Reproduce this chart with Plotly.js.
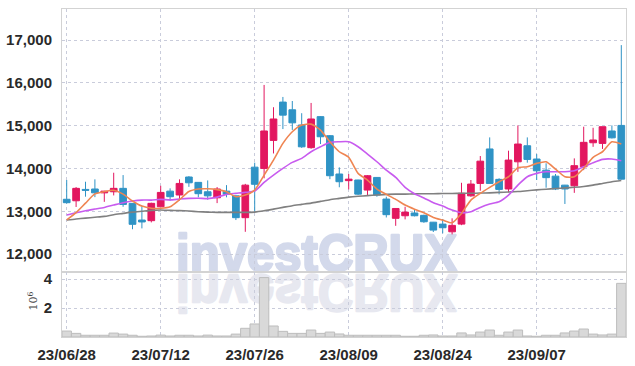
<!DOCTYPE html>
<html>
<head>
<meta charset="utf-8">
<script src="https://cdn.plot.ly/plotly-3.0.1.min.js"></script>
<style>
  html, body { margin: 0; padding: 0; background: #ffffff; }
  #wrap { position: relative; width: 635px; height: 366px; overflow: hidden; }
  #wm { position: absolute; left: 0; top: 0; z-index: 0; }
  #chart { position: absolute; left: 0; top: 0; width: 635px; height: 366px; z-index: 1; }
</style>
</head>
<body>
<div id="wrap">
  <svg id="wm" width="635" height="366">
    <text x="176" y="271" font-family="Liberation Sans, Arial, sans-serif" font-weight="bold" font-size="52" textLength="281" lengthAdjust="spacingAndGlyphs" fill="#d3d9eb" stroke="#d3d9eb" stroke-width="2.4" stroke-linejoin="round">investCRUX</text>
    <text x="176" y="271" transform="translate(0,546) scale(1,-1)" font-family="Liberation Sans, Arial, sans-serif" font-weight="bold" font-size="52" textLength="281" lengthAdjust="spacingAndGlyphs" fill="#e7e8f0" stroke="#e7e8f0" stroke-width="2.4" stroke-linejoin="round">investCRUX</text>
  </svg>
  <div id="chart"></div>
</div>
<script>
const dates = ["23/06/28","23/06/29","23/06/30","23/07/03","23/07/04","23/07/05","23/07/06","23/07/07","23/07/10","23/07/11",
  "23/07/12","23/07/13","23/07/14","23/07/17","23/07/18","23/07/19","23/07/20","23/07/21","23/07/24","23/07/25",
  "23/07/26","23/07/27","23/07/28","23/07/31","23/08/01","23/08/02","23/08/03","23/08/04","23/08/07","23/08/08",
  "23/08/09","23/08/10","23/08/11","23/08/14","23/08/16","23/08/17","23/08/18","23/08/21","23/08/22","23/08/23",
  "23/08/24","23/08/25","23/08/28","23/08/29","23/08/30","23/08/31","23/09/01","23/09/04","23/09/05","23/09/06",
  "23/09/07","23/09/08","23/09/11","23/09/12","23/09/13","23/09/14","23/09/15","23/09/18","23/09/19","23/09/20"];

const openP = [13280,13245,13510,13520,13430,13455,13535,13185,12795,12780,
  13105,13470,13380,13800,13675,13455,13315,13470,13360,12850,
  14030,14000,14655,15550,15370,15015,14485,15210,14765,13870,
  13715,13730,13495,13790,13285,12835,12895,12960,12905,12745,
  12700,12520,12700,13360,13650,14455,13745,13520,14155,14530,
  14220,13960,13820,13610,13595,14040,14600,14585,14875,15005];
const highP = [13730,13565,13690,13745,13475,13900,13845,13190,13120,13200,
  13595,13535,13745,13820,13680,13720,13565,13610,13365,13640,
  14135,15950,15430,15670,15575,15290,15530,15220,14780,14025,
  13870,13735,13845,13795,13340,13065,13105,13050,12920,12750,
  12820,12835,13665,13730,14290,14725,13770,14415,15005,14725,
  14335,14120,13870,13615,14235,14975,14950,14975,15005,16880];
const lowP = [13180,13100,13340,13330,13220,13370,13105,12580,12600,12740,
  13105,13245,13250,13570,13325,13270,13190,13325,12795,12520,
  12990,13770,14350,14920,14900,14480,14460,14570,13750,13560,
  13510,13380,13380,13340,12855,12660,12810,12880,12730,12515,
  12485,12460,12675,13340,13480,13650,13395,13440,13920,14135,
  13730,13550,13495,13170,13430,13960,14505,14455,14700,13740];
const closeP = [13200,13535,13490,13430,13470,13535,13160,12695,12750,13185,
  13440,13340,13650,13665,13410,13360,13520,13400,12850,13610,
  13630,14875,15155,15245,15065,14505,15155,14740,13830,13690,
  13750,13400,13830,13380,12920,13065,12980,12895,12755,12560,
  12615,12670,13420,13635,14170,13650,13510,14195,14570,14210,
  13945,13785,13520,13520,14065,14610,14665,14975,14715,13750];

const ma5 = [12800,12970,13190,13405,13460,13490,13400,13240,13120,13070,
  13070,13105,13270,13460,13518,13525,13505,13455,13340,13378,
  13495,13845,14196,14585,14857,15013,15035,14897,14623,14390,
  14259,13885,13729,13518,13394,13278,13145,13048,12966,12857,
  12794,12731,12950,13261,13418,13558,13690,13806,14016,14039,
  14118,14156,13986,13806,13806,14002,14259,14390,14623,14570];
const ma20 = [12911,12965,13012,13051,13090,13145,13198,13238,13261,13261,
  13278,13265,13285,13300,13305,13295,13330,13394,13418,13441,
  13472,13675,13845,14002,14142,14235,14390,14507,14609,14623,
  14623,14507,14336,14156,13962,13790,13560,13410,13310,13200,
  13120,13028,12965,12988,13090,13168,13222,13378,13612,13806,
  13885,13922,13922,13922,13946,14039,14133,14212,14219,14180];
const ma60 = [12794,12820,12840,12860,12880,12920,12950,12980,13000,13020,
  13030,13020,13015,13005,12990,12980,12975,12975,12975,12975,
  12980,13010,13050,13090,13130,13160,13190,13230,13270,13300,
  13330,13350,13365,13380,13395,13400,13400,13405,13410,13410,
  13415,13415,13420,13420,13425,13430,13440,13450,13460,13480,
  13500,13515,13530,13545,13560,13580,13610,13650,13690,13720];

// volume in millions of shares
const volume = [0.41,0.25,0.12,0.12,0.12,0.27,0.20,0.12,0.05,0.07,
  0.13,0.07,0.12,0.12,0.07,0.13,0.07,0.07,0.20,0.60,
  0.90,4.10,0.76,0.39,0.25,0.25,0.48,0.25,0.34,0.21,
  0.12,0.12,0.12,0.12,0.12,0.12,0.05,0.05,0.12,0.14,
  0.07,0.07,0.28,0.14,0.34,0.48,0.12,0.34,0.48,0.07,
  0.05,0.12,0.12,0.28,0.41,0.55,0.20,0.14,0.20,3.70];

const dateTicks = ["23/06/28","23/07/12","23/07/26","23/08/09","23/08/24","23/09/07"];
const priceTicks = [12000,13000,14000,15000,16000,17000];
const volTicks = [2,4];
const volTickText = ["2","4"];

const upColor = '#e2175f';
const downColor = '#2f93c5';
const gridColor = '#c9ccdb';
const frameColor = '#d3d3d3';
const tickFont = {family: 'Liberation Sans Narrow, Arial Narrow, sans-serif', size: 15, color: '#2a2a2a', weight: 'bold'};

const traces = [
  {
    type: 'candlestick', x: dates, open: openP, high: highP, low: lowP, close: closeP,
    xaxis: 'x', yaxis: 'y',
    increasing: {line: {color: upColor, width: 1}, fillcolor: upColor},
    decreasing: {line: {color: downColor, width: 1}, fillcolor: downColor},
    hoverinfo: 'skip'
  },
  {type: 'scatter', mode: 'lines', x: dates, y: ma60, xaxis: 'x', yaxis: 'y', line: {color: '#808080', width: 1.6, shape: 'spline', smoothing: 0.6}, hoverinfo: 'skip'},
  {type: 'scatter', mode: 'lines', x: dates, y: ma20, xaxis: 'x', yaxis: 'y', line: {color: '#c85bef', width: 1.6, shape: 'spline', smoothing: 0.6}, hoverinfo: 'skip'},
  {type: 'scatter', mode: 'lines', x: dates, y: ma5, xaxis: 'x', yaxis: 'y', line: {color: '#ef8552', width: 1.6, shape: 'spline', smoothing: 0.6}, hoverinfo: 'skip'},
  {
    type: 'bar', x: dates, y: volume, xaxis: 'x2', yaxis: 'y2',
    marker: {color: '#d9d9d9', line: {color: '#bdbdbd', width: 1}}, hoverinfo: 'skip'
  }
];

const commonX = {
  type: 'category', range: [-0.5, 59.5], tickmode: 'array', tickvals: dateTicks, ticktext: dateTicks,
  showgrid: true, gridcolor: gridColor, griddash: 'dot', gridwidth: 1,
  showline: true, linecolor: frameColor, linewidth: 1, mirror: true,
  zeroline: false, fixedrange: true, ticks: '', tickfont: tickFont
};

const layout = {
  width: 635, height: 366,
  margin: {l: 62, r: 9, t: 9, b: 29},
  paper_bgcolor: 'rgba(0,0,0,0)', plot_bgcolor: 'rgba(0,0,0,0)',
  showlegend: false, hovermode: false, bargap: 0,
  boxgap: 0.05, boxgroupgap: 0.25,
  xaxis: Object.assign({}, commonX, {anchor: 'y', showticklabels: false, rangeslider: {visible: false}}),
  xaxis2: Object.assign({}, commonX, {anchor: 'y2', showticklabels: true, ticklabelstandoff: 4}),
  yaxis: {
    domain: [0.198, 1], range: [11580, 17724], tickmode: 'array', tickvals: priceTicks,
    tickformat: ',d', showgrid: true, gridcolor: gridColor, griddash: 'dot',
    showline: true, linecolor: frameColor, mirror: true, zeroline: false, ticks: '',
    tickfont: tickFont, ticklabelstandoff: 6
  },
  yaxis2: {
    domain: [0, 0.198], range: [0, 4.48], tickmode: 'array', tickvals: volTicks, ticktext: volTickText,
    showgrid: true, gridcolor: gridColor, griddash: 'dot',
    showline: true, linecolor: frameColor, mirror: true, zeroline: false, ticks: '',
    tickfont: tickFont, ticklabelstandoff: 6
  },
  annotations: [{
    text: '10<sup>6</sup>', xref: 'paper', yref: 'paper', x: -0.0505, y: 0.11,
    xanchor: 'center', yanchor: 'middle', textangle: -90, showarrow: false,
    font: {family: 'DejaVu Serif, serif', size: 11, color: '#444444'}
  }]
};

Plotly.newPlot('chart', traces, layout, {staticPlot: true, displayModeBar: false});
</script>
</body>
</html>
